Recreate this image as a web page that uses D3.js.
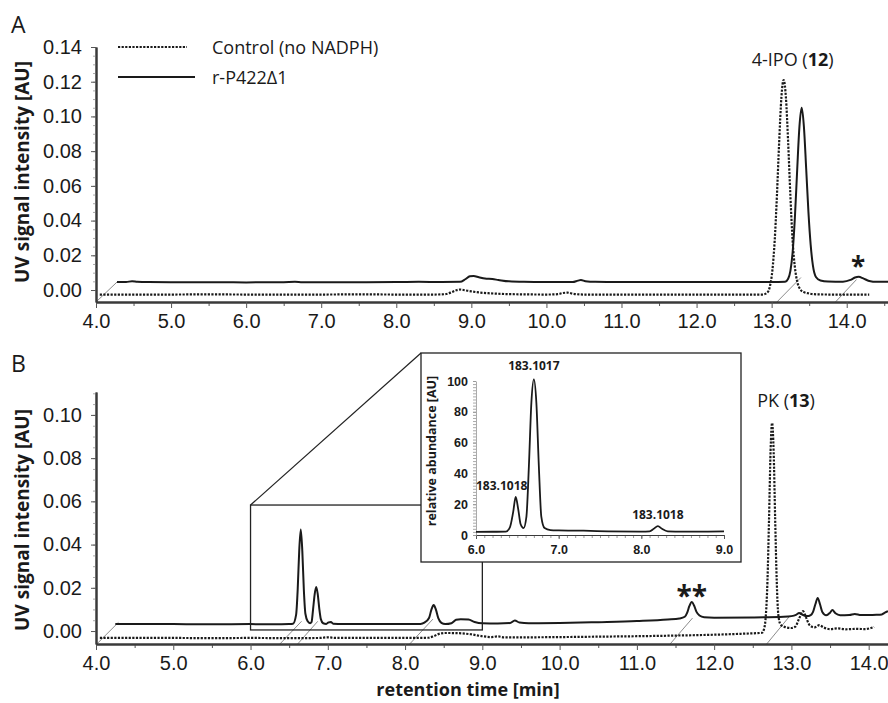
<!DOCTYPE html>
<html>
<head>
<meta charset="utf-8">
<script src="https://cdn.jsdelivr.net/npm/d3@7"></script>
<style>
  body { margin: 0; background: #fff; }
  svg { display: block; font-family: 'Open Sans', sans-serif; }
</style>
</head>
<body>
<svg id="chart" width="888" height="703"></svg>
<script>
// retention time [min], UV signal [AU] (solid trace is drawn offset, values are apparent positions)
const aControl = [[4.05,-0.0026],[4.5,-0.0026],[5.0,-0.0026],[5.5,-0.0025],[6.0,-0.0026],[6.5,-0.0026],[7.0,-0.0026],[7.5,-0.0025],[8.0,-0.0026],[8.5,-0.0026],[8.65,-0.0024],[8.74,-0.0012],[8.8,-0.0001],[8.85,0.0003],[8.92,-0.0002],[9.0,-0.0008],[9.1,-0.0014],[9.25,-0.0019],[9.45,-0.0023],[9.7,-0.0025],[10.0,-0.0026],[10.15,-0.0024],[10.22,-0.0017],[10.28,-0.0015],[10.36,-0.0022],[10.5,-0.0026],[11.0,-0.0026],[11.5,-0.0026],[12.0,-0.0026],[12.5,-0.0026],[12.88,-0.0026],[12.94,-0.0016],[12.98,0.0027],[13.01,0.0113],[13.04,0.028],[13.07,0.054],[13.10,0.085],[13.13,0.111],[13.16,0.121],[13.19,0.111],[13.22,0.085],[13.25,0.054],[13.28,0.028],[13.31,0.013],[13.34,0.005],[13.38,0.0005],[13.43,-0.0012],[13.5,-0.002],[13.6,-0.0025],[13.8,-0.0026],[14.0,-0.0026],[14.3,-0.0026]]
const aEnzyme = [[4.28,0.0046],[4.4,0.0046],[4.48,0.0051],[4.55,0.0048],[4.7,0.0046],[5.0,0.0045],[5.5,0.0045],[6.0,0.0044],[6.5,0.0045],[6.65,0.0047],[6.75,0.0045],[7.0,0.0045],[7.5,0.0045],[8.0,0.0046],[8.3,0.0047],[8.6,0.0046],[8.85,0.0047],[8.92,0.0062],[8.98,0.0079],[9.03,0.0081],[9.1,0.0074],[9.18,0.0066],[9.28,0.0063],[9.36,0.0058],[9.5,0.005],[9.7,0.0047],[10.0,0.0046],[10.35,0.0046],[10.42,0.0054],[10.46,0.0058],[10.52,0.0051],[10.65,0.0047],[11.0,0.0046],[11.5,0.0046],[12.0,0.0046],[12.5,0.0046],[13.0,0.0046],[13.18,0.0048],[13.22,0.0065],[13.25,0.011],[13.28,0.022],[13.31,0.042],[13.34,0.069],[13.37,0.094],[13.40,0.105],[13.43,0.094],[13.46,0.07],[13.49,0.045],[13.52,0.026],[13.55,0.014],[13.59,0.0075],[13.65,0.0055],[13.75,0.0049],[13.95,0.0048],[14.05,0.0058],[14.11,0.0072],[14.16,0.0076],[14.22,0.0067],[14.3,0.0052],[14.4,0.0047],[14.55,0.0047]]
const bControl = [[4.05,-0.0032],[4.5,-0.0032],[5.0,-0.0032],[5.5,-0.0033],[6.0,-0.0032],[6.5,-0.0033],[6.9,-0.0032],[7.0,-0.0029],[7.1,-0.0032],[7.5,-0.0032],[8.0,-0.0032],[8.3,-0.0031],[8.37,-0.0024],[8.44,-0.0013],[8.52,-0.0009],[8.7,-0.001],[8.85,-0.0015],[9.0,-0.0024],[9.12,-0.0028],[9.2,-0.0025],[9.28,-0.0029],[9.6,-0.0029],[10.0,-0.0028],[10.5,-0.0026],[11.0,-0.0024],[11.5,-0.0021],[12.0,-0.0017],[12.4,-0.0012],[12.62,-0.0008],[12.65,0.0015],[12.67,0.0077],[12.69,0.0232],[12.71,0.0513],[12.73,0.083],[12.75,0.0963],[12.77,0.083],[12.79,0.0513],[12.81,0.0232],[12.83,0.0077],[12.86,0.003],[12.92,0.0018],[13.0,0.0014],[13.05,0.002],[13.1,0.0058],[13.15,0.0092],[13.19,0.0062],[13.24,0.0025],[13.3,0.0017],[13.36,0.0027],[13.42,0.0016],[13.5,0.0009],[13.6,0.0012],[13.7,0.0008],[13.85,0.001],[13.95,0.0009],[14.03,0.0014],[14.07,0.0019]]
const bEnzyme = [[4.25,0.0032],[4.5,0.0033],[5.0,0.0032],[5.5,0.0031],[6.0,0.0032],[6.3,0.0031],[6.5,0.0032],[6.55,0.0034],[6.59,0.0076],[6.61,0.019],[6.63,0.0371],[6.65,0.047],[6.67,0.0371],[6.69,0.019],[6.71,0.008],[6.74,0.0045],[6.77,0.0036],[6.79,0.0042],[6.81,0.0103],[6.83,0.017],[6.85,0.0204],[6.87,0.017],[6.89,0.0103],[6.91,0.0055],[6.94,0.0036],[6.98,0.0033],[7.01,0.004],[7.04,0.0042],[7.07,0.0034],[7.2,0.0032],[7.5,0.0032],[8.0,0.0032],[8.2,0.0033],[8.25,0.0039],[8.31,0.006],[8.34,0.0098],[8.37,0.012],[8.4,0.0098],[8.43,0.006],[8.47,0.0038],[8.52,0.0032],[8.6,0.0036],[8.66,0.0052],[8.72,0.0055],[8.82,0.0053],[8.9,0.0042],[9.0,0.0036],[9.2,0.0035],[9.36,0.0037],[9.42,0.0049],[9.48,0.0039],[9.6,0.0036],[10.0,0.0037],[10.5,0.0041],[11.0,0.0046],[11.4,0.0053],[11.55,0.0058],[11.62,0.0066],[11.65,0.0084],[11.68,0.0116],[11.71,0.0134],[11.74,0.0118],[11.77,0.009],[11.81,0.0072],[11.87,0.0064],[12.0,0.0062],[12.5,0.0063],[12.9,0.0066],[13.0,0.0069],[13.06,0.0075],[13.1,0.0083],[13.14,0.0076],[13.2,0.0069],[13.25,0.0074],[13.28,0.0089],[13.31,0.0124],[13.34,0.0153],[13.37,0.0124],[13.4,0.0088],[13.45,0.0073],[13.5,0.0085],[13.53,0.0097],[13.57,0.0082],[13.63,0.0073],[13.75,0.0074],[13.82,0.0079],[13.9,0.0074],[14.0,0.0074],[14.1,0.0075],[14.17,0.0077],[14.21,0.0085],[14.25,0.0092]]
// inset: extracted ion trace, relative abundance
const insetMs = [[6.0,2.0],[6.2,2.1],[6.36,2.2],[6.41,5],[6.45,15],[6.48,24.7],[6.51,17],[6.54,7],[6.575,4.5],[6.61,12],[6.64,45],[6.67,86],[6.7,101],[6.73,86],[6.76,45],[6.79,12],[6.83,4.5],[6.9,3.2],[7.0,3.0],[7.3,2.8],[7.6,2.4],[8.0,2.2],[8.1,2.4],[8.15,4],[8.2,5.8],[8.25,4],[8.32,2.4],[8.5,2.2],[8.8,2.2],[9.0,2.3]]
const insetLabels = [[6.48,'183.1018'],[6.70,'183.1017'],[8.2,'183.1018']]

// offset guides: [time on axis, time on trace, signal on trace]
const aOffsets = [[4.0,4.28,0.0046],[13.07,13.39,0.0072],[13.85,14.13,0.006]]
const bOffsets = [[4.01,4.29,0.004],[6.38,6.66,0.0045],[6.61,6.87,0.0045],[8.06,8.36,0.0055],[11.43,11.72,0.006],[12.68,12.98,0.007]]
const zoomTime = [6.0, 9.0]
const zoomSignal = [0.0005, 0.0583]

const xTicksA = [4,5,6,7,8,9,10,11,12,13,14]
const xTicksB = [4,5,6,7,8,9,10,11,12,13,14]
const yTicksA = [0,0.02,0.04,0.06,0.08,0.10,0.12,0.14]
const yTicksB = [0,0.02,0.04,0.06,0.08,0.10]
const insetXTicks = [6,7,8,9]
const insetYTicks = [0,20,40,60,80,100]

const svg = d3.select('#chart')
const ink = '#1a1a1a'

function styleAxis(g, w) {
  g.select('.domain').attr('stroke', '#3a3a3a').attr('stroke-width', w)
  g.selectAll('.tick line').attr('stroke', '#555')
  g.selectAll('.tick text').attr('fill', ink)
}

function panel(cfg) {
  const x = d3.scaleLinear().domain(cfg.xDomain).range([cfg.left, cfg.right])
  const y = d3.scaleLinear().domain(cfg.yDomain).range([cfg.bottom, cfg.top])
  const g = svg.append('g')
  const line = d3.line().x(d => x(d[0])).y(d => y(d[1])).curve(d3.curveMonotoneX)

  g.selectAll('line.guide')
    .data(cfg.offsets)
    .join('line')
    .attr('class', 'guide')
    .attr('x1', d => x(d[0])).attr('y1', y(cfg.yDomain[0]))
    .attr('x2', d => x(d[1])).attr('y2', d => y(d[2]))
    .attr('stroke', '#8c8c8c').attr('stroke-width', 1)

  g.append('path').datum(cfg.control)
    .attr('d', line).attr('fill', 'none')
    .attr('stroke', ink).attr('stroke-width', 2.2)
    .attr('stroke-dasharray', '2.2,1.4')
  g.append('path').datum(cfg.enzyme)
    .attr('d', line).attr('fill', 'none')
    .attr('stroke', ink).attr('stroke-width', 2)

  // x axis, minor then major
  const xMinor = g.append('g').attr('transform', `translate(0,${cfg.bottom})`)
    .call(d3.axisBottom(x).tickValues(d3.range(4.5, cfg.xDomain[1], 1)).tickFormat('').tickSize(4).tickSizeOuter(0))
  styleAxis(xMinor, 2)
  const xAxis = g.append('g').attr('transform', `translate(0,${cfg.bottom})`)
    .call(d3.axisBottom(x).tickValues(cfg.xTicks).tickFormat(d3.format('.1f')).tickSize(6).tickPadding(6).tickSizeOuter(0))
  xAxis.selectAll('text').attr('font-size', 20)
  styleAxis(xAxis, 2)

  const yMinor = g.append('g').attr('transform', `translate(${cfg.left},0)`)
    .call(d3.axisLeft(y).tickValues(d3.range(0.005, cfg.yDomain[1], 0.005)).tickFormat('').tickSize(3).tickSizeOuter(0))
  styleAxis(yMinor, 2)
  yMinor.selectAll('.tick line').attr('stroke', '#aaa')
  const yAxis = g.append('g').attr('transform', `translate(${cfg.left},0)`)
    .call(d3.axisLeft(y).tickValues(cfg.yTicks).tickFormat(d3.format('.2f')).tickSize(5).tickPadding(9).tickSizeOuter(0))
  yAxis.selectAll('text').attr('font-size', 20)
  styleAxis(yAxis, 2)

  svg.append('text')
    .attr('transform', `translate(22,${cfg.yTitleY}) rotate(-90)`)
    .attr('text-anchor', 'middle').attr('dominant-baseline', 'central')
    .attr('font-size', 19).attr('font-weight', 'bold').attr('fill', ink)
    .text('UV signal intensity [AU]')
  svg.append('text')
    .attr('x', 11).attr('y', cfg.letterY)
    .attr('font-size', 23).attr('fill', ink)
    .text(cfg.letter)
  return { x, y, g }
}

// panel A
const A = panel({
  letter: 'A', letterY: 33, yTitleY: 172,
  xDomain: [4, 14.55], yDomain: [-0.0069, 0.14],
  left: 96, right: 888, top: 47, bottom: 302,
  xTicks: xTicksA, yTicks: yTicksA,
  control: aControl, enzyme: aEnzyme, offsets: aOffsets
})

// legend
const legend = svg.append('g').attr('fill', ink).attr('font-size', 18)
legend.append('line').attr('x1', 118).attr('x2', 187).attr('y1', 47).attr('y2', 47)
  .attr('stroke', ink).attr('stroke-width', 2.2).attr('stroke-dasharray', '2.2,1.4')
legend.append('text').attr('x', 212).attr('y', 54).text('Control (no NADPH)')
legend.append('line').attr('x1', 118).attr('x2', 195).attr('y1', 77).attr('y2', 77)
  .attr('stroke', ink).attr('stroke-width', 2)
legend.append('text').attr('x', 212).attr('y', 84).text('r-P422Δ1')

const ipo = svg.append('text').attr('x', A.x(13.28)).attr('y', 66)
  .attr('text-anchor', 'middle').attr('font-size', 18).attr('fill', ink)
ipo.append('tspan').text('4-IPO (')
ipo.append('tspan').attr('font-weight', 'bold').text('12')
ipo.append('tspan').text(')')
svg.append('text').attr('x', A.x(14.15)).attr('y', 276)
  .attr('text-anchor', 'middle').attr('font-size', 26).attr('font-weight', 'bold').attr('fill', ink)
  .text('*')

// panel B
const B = panel({
  letter: 'B', letterY: 372, yTitleY: 520,
  xDomain: [4, 14.25], yDomain: [-0.006, 0.1106],
  left: 96, right: 888, top: 392, bottom: 644,
  xTicks: xTicksB, yTicks: yTicksB,
  control: bControl, enzyme: bEnzyme, offsets: bOffsets
})

svg.append('text').attr('x', 468).attr('y', 696)
  .attr('text-anchor', 'middle').attr('font-size', 18).attr('font-weight', 'bold').attr('fill', ink)
  .text('retention time [min]')

const pk = svg.append('text').attr('x', B.x(12.93)).attr('y', 407)
  .attr('text-anchor', 'middle').attr('font-size', 18).attr('fill', ink)
pk.append('tspan').text('PK (')
pk.append('tspan').attr('font-weight', 'bold').text('13')
pk.append('tspan').text(')')
svg.append('text').attr('x', B.x(11.71)).attr('y', 606)
  .attr('text-anchor', 'middle').attr('font-size', 28).attr('font-weight', 'bold').attr('fill', ink)
  .text('**')

// zoom box and inset
const box = { left: 421, right: 741, top: 353, bottom: 562 }
svg.append('rect')
  .attr('x', B.x(zoomTime[0])).attr('y', B.y(zoomSignal[1]))
  .attr('width', B.x(zoomTime[1]) - B.x(zoomTime[0]))
  .attr('height', B.y(zoomSignal[0]) - B.y(zoomSignal[1]))
  .attr('fill', 'none').attr('stroke', '#222').attr('stroke-width', 1.3)
svg.append('line')
  .attr('x1', B.x(zoomTime[0])).attr('y1', B.y(zoomSignal[1]))
  .attr('x2', box.left).attr('y2', box.top)
  .attr('stroke', '#222').attr('stroke-width', 1.2)
svg.append('rect')
  .attr('x', box.left).attr('y', box.top)
  .attr('width', box.right - box.left).attr('height', box.bottom - box.top)
  .attr('fill', '#fff').attr('stroke', '#222').attr('stroke-width', 1.3)

const ix = d3.scaleLinear().domain([6, 9]).range([476, 724])
const iy = d3.scaleLinear().domain([0, 100]).range([535, 381])
const inset = svg.append('g')

const ixMinor = inset.append('g').attr('transform', 'translate(0,535)')
  .call(d3.axisBottom(ix).tickValues(d3.range(6.1, 9, 0.1)).tickFormat('').tickSize(3).tickSizeOuter(0))
styleAxis(ixMinor, 1.2)
ixMinor.selectAll('.tick line').attr('stroke', '#999')
const ixAxis = inset.append('g').attr('transform', 'translate(0,535)')
  .call(d3.axisBottom(ix).tickValues(insetXTicks).tickFormat(d3.format('.1f')).tickSize(4).tickPadding(6).tickSizeOuter(0))
styleAxis(ixAxis, 1.2)
ixAxis.selectAll('text').attr('font-size', 12.5).attr('font-weight', 'bold')

const iyMinor = inset.append('g').attr('transform', 'translate(476,0)')
  .call(d3.axisLeft(iy).tickValues(d3.range(2, 101, 2)).tickFormat('').tickSize(3).tickSizeOuter(0))
styleAxis(iyMinor, 1)
iyMinor.select('.domain').attr('stroke', '#aaa')
iyMinor.selectAll('.tick line').attr('stroke', '#aaa')
const iyAxis = inset.append('g').attr('transform', 'translate(476,0)')
  .call(d3.axisLeft(iy).tickValues(insetYTicks).tickSize(3).tickPadding(5).tickSizeOuter(0))
iyAxis.select('.domain').remove()
iyAxis.selectAll('.tick line').attr('stroke', '#999')
iyAxis.selectAll('text').attr('font-size', 12.5).attr('font-weight', 'bold').attr('fill', ink)

inset.append('path').datum(insetMs)
  .attr('d', d3.line().x(d => ix(d[0])).y(d => iy(d[1])).curve(d3.curveMonotoneX))
  .attr('fill', 'none').attr('stroke', ink).attr('stroke-width', 1.8)

inset.selectAll('text.ms')
  .data(insetLabels)
  .join('text')
  .attr('class', 'ms')
  .attr('x', d => ix(d[0]) - (d[0] < 6.6 ? 14 : 0))
  .attr('y', (d, i) => [490, 370, 519][i])
  .attr('text-anchor', 'middle').attr('font-size', 12).attr('font-weight', 'bold').attr('fill', ink)
  .text(d => d[1])

inset.append('text')
  .attr('transform', 'translate(431,451) rotate(-90)')
  .attr('text-anchor', 'middle').attr('dominant-baseline', 'central')
  .attr('font-size', 12.5).attr('font-weight', 'bold').attr('fill', ink)
  .text('relative abundance [AU]')
</script>
</body>
</html>
